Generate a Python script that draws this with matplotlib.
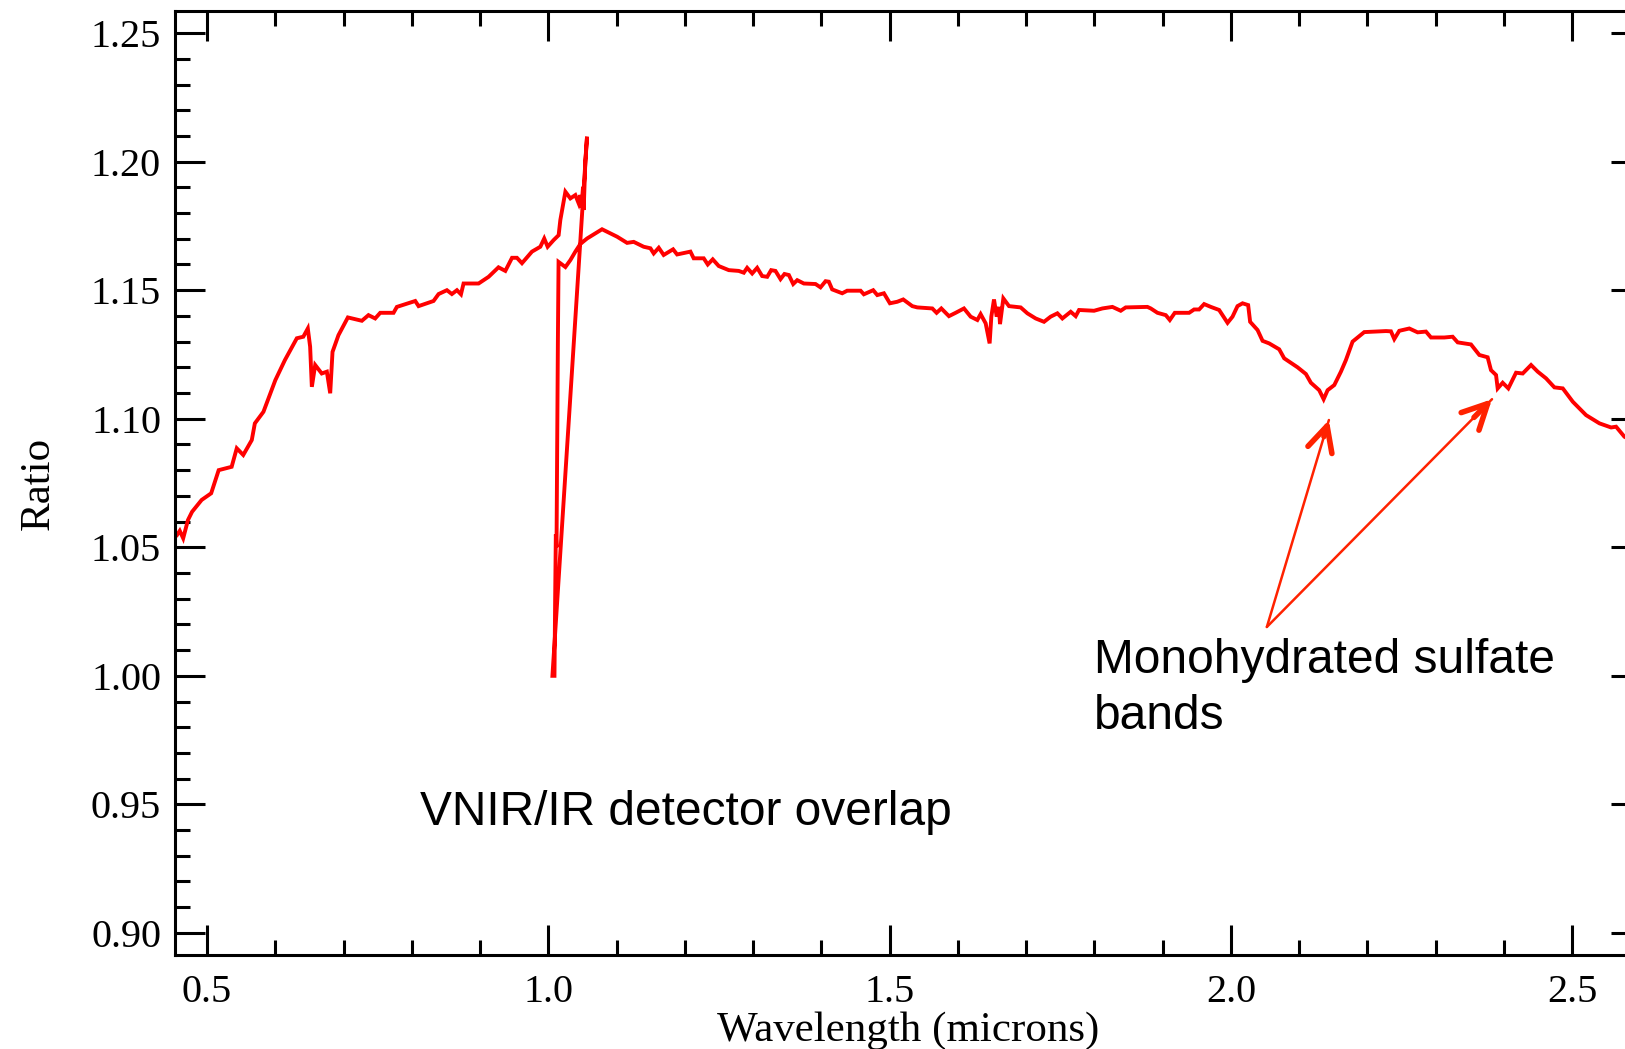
import numpy as np
import matplotlib
matplotlib.use('Agg')
import matplotlib.pyplot as plt
from matplotlib.ticker import MultipleLocator, FormatStrFormatter

# VNIR detector segment (wavelength in microns, ratio)
vnir_x = [0.456, 0.460, 0.465, 0.472, 0.478, 0.492, 0.506, 0.517, 0.536, 0.5435,
          0.553, 0.5655, 0.570, 0.5826, 0.600, 0.614, 0.6315, 0.641, 0.6476, 0.651,
          0.6535, 0.6584, 0.668, 0.6755, 0.6804, 0.6838, 0.6925, 0.7063, 0.7268, 0.7365,
          0.7463, 0.7537, 0.7732, 0.7781, 0.805, 0.8099, 0.8318, 0.8392, 0.8514, 0.8587,
          0.8661, 0.872, 0.8758, 0.8978, 0.9125, 0.927, 0.937, 0.9468, 0.954, 0.9614,
          0.976, 0.9883, 0.994, 0.999, 1.0078, 1.0151, 1.0176, 1.021, 1.025, 1.0323,
          1.0396, 1.0444, 1.047, 1.0484, 1.0509, 1.0518, 1.0543, 1.0567]
vnir_y = [1.0548, 1.0564, 1.0535, 1.0606, 1.0638, 1.0684, 1.0710, 1.0800, 1.0813, 1.0885,
          1.0859, 1.0917, 1.0982, 1.1027, 1.1150, 1.1228, 1.1313, 1.1319, 1.1351, 1.1280,
          1.1124, 1.1209, 1.1176, 1.1183, 1.1099, 1.1260, 1.1325, 1.1394, 1.1381, 1.1403,
          1.1390, 1.1412, 1.1412, 1.1435, 1.1458, 1.1438, 1.1458, 1.1485, 1.1500, 1.1485,
          1.1500, 1.1484, 1.1526, 1.1526, 1.1552, 1.1589, 1.1575, 1.1626, 1.1626, 1.1605,
          1.1650, 1.1669, 1.1701, 1.1669, 1.1695, 1.1714, 1.1773, 1.1824, 1.1883, 1.1857,
          1.1870, 1.1838, 1.1870, 1.1820, 1.1902, 1.1812, 1.2006, 1.2097]

# IR detector segment
ir_x = [1.006, 1.009, 1.010, 1.011, 1.012, 1.013, 1.014, 1.015, 1.025, 1.0323,
        1.0396, 1.047, 1.0567, 1.069, 1.0787, 1.091, 1.1008, 1.1154, 1.1251, 1.1397,
        1.1496, 1.1544, 1.1618, 1.169, 1.1828, 1.1887, 1.2082, 1.213, 1.2277, 1.2336,
        1.2409, 1.2497, 1.2644, 1.279, 1.2864, 1.2913, 1.2987, 1.306, 1.3133, 1.3207,
        1.3265, 1.3328, 1.3402, 1.346, 1.3524, 1.3588, 1.3647, 1.3744, 1.3915, 1.3988,
        1.4062, 1.411, 1.4159, 1.4306, 1.4379, 1.4575, 1.4623, 1.476, 1.482, 1.4917,
        1.5005, 1.5113, 1.520, 1.5333, 1.5406, 1.5626, 1.5689, 1.5758, 1.587, 1.5968,
        1.609, 1.6188, 1.6286, 1.6334, 1.6408, 1.6432, 1.6466, 1.6491, 1.653, 1.657,
        1.6603, 1.6618, 1.6667, 1.675, 1.6921, 1.7019, 1.7141, 1.7263, 1.736, 1.7459,
        1.7532, 1.7654, 1.7727, 1.7776, 1.7996, 1.8118, 1.8265, 1.8387, 1.846, 1.8778,
        1.8827, 1.8925, 1.9047, 1.9106, 1.9179, 1.9389, 1.9462, 1.9535, 1.9609, 1.9707,
        1.9829, 1.9952, 2.0025, 2.0098, 2.0172, 2.0254, 2.0283, 2.0392, 2.0465, 2.0562,
        2.0709, 2.0782, 2.0978, 2.110, 2.1173, 2.1295, 2.136, 2.1418, 2.1516, 2.1613,
        2.1686, 2.1784, 2.1955, 2.2273, 2.2346, 2.2395, 2.2468, 2.2615, 2.2737, 2.2859,
        2.2933, 2.3128, 2.325, 2.3324, 2.3519, 2.3641, 2.3763, 2.3812, 2.3886, 2.391,
        2.3983, 2.4066, 2.4179, 2.4277, 2.4399, 2.4497, 2.4619, 2.4741, 2.4864, 2.5011,
        2.5205, 2.5401, 2.5572, 2.5645, 2.5767, 2.595]
ir_y = [1.000, 1.000, 1.030, 1.055, 1.050, 1.090, 1.130, 1.161, 1.159, 1.1617,
        1.1650, 1.1680, 1.1701, 1.1721, 1.1737, 1.1721, 1.1708, 1.1684, 1.1688, 1.1669,
        1.1663, 1.1643, 1.1665, 1.1637, 1.1659, 1.1639, 1.1650, 1.1624, 1.1624, 1.1600,
        1.1620, 1.1594, 1.1578, 1.1575, 1.1568, 1.1587, 1.1565, 1.1587, 1.1555, 1.1552,
        1.1578, 1.1575, 1.1543, 1.1563, 1.1559, 1.1524, 1.1539, 1.1526, 1.1524, 1.1511,
        1.1535, 1.1533, 1.1503, 1.1488, 1.1498, 1.1498, 1.1484, 1.1500, 1.1481, 1.1488,
        1.1449, 1.1455, 1.1464, 1.1438, 1.1433, 1.1429, 1.1412, 1.1429, 1.1399, 1.1412,
        1.1429, 1.1397, 1.1384, 1.1407, 1.1371, 1.1338, 1.1293, 1.1397, 1.1464, 1.1397,
        1.1435, 1.1368, 1.1468, 1.1438, 1.1433, 1.1410, 1.1390, 1.1377, 1.1397, 1.1410,
        1.1390, 1.1416, 1.1399, 1.1423, 1.1420, 1.1429, 1.1435, 1.1420, 1.1433, 1.1435,
        1.1429, 1.1412, 1.1403, 1.1384, 1.1412, 1.1412, 1.1425, 1.1425, 1.1446, 1.1435,
        1.1423, 1.1373, 1.1397, 1.1438, 1.1449, 1.1442, 1.1377, 1.1345, 1.1303, 1.1293,
        1.1270, 1.1235, 1.1200, 1.1174, 1.1140, 1.1111, 1.1076, 1.1111, 1.1131, 1.1183,
        1.1228, 1.1300, 1.1337, 1.1341, 1.1340, 1.1310, 1.1342, 1.1351, 1.1336, 1.1339,
        1.1316, 1.1316, 1.1319, 1.1297, 1.1289, 1.1248, 1.1239, 1.1189, 1.1170, 1.1118,
        1.1140, 1.1118, 1.1179, 1.1176, 1.1209, 1.1183, 1.1157, 1.1122, 1.1118, 1.1066,
        1.1014, 1.0982, 1.0966, 1.0969, 1.0930, 1.0905]

band_centers = [(2.1437, 1.0995), (2.3827, 1.1076)]

serif = ['Liberation Serif', 'DejaVu Serif']
sans = ['Liberation Sans', 'DejaVu Sans']
red = '#ff0000'
arrow_red = '#ff2200'

fig = plt.figure(figsize=(16.25, 10.49), dpi=100)
ax = fig.add_axes([175 / 1625, 94 / 1049, 1466 / 1625, 944 / 1049])

# one polyline, as the raw data would be plotted (VNIR then IR)
wl = np.concatenate([vnir_x, ir_x])
ratio = np.concatenate([vnir_y, ir_y])
ax.plot(wl, ratio, color=red, lw=2.8, solid_joinstyle='miter')

ax.set_xlim(0.453, 2.601)
ax.set_ylim(0.8914, 1.2586)

ax.xaxis.set_major_locator(MultipleLocator(0.5))
ax.xaxis.set_minor_locator(MultipleLocator(0.1))
ax.yaxis.set_major_locator(MultipleLocator(0.05))
ax.yaxis.set_minor_locator(MultipleLocator(0.01))
ax.xaxis.set_major_formatter(FormatStrFormatter('%.1f'))
ax.yaxis.set_major_formatter(FormatStrFormatter('%.2f'))

ax.tick_params(which='both', direction='in', top=True, right=True, width=2.2, colors='black')
ax.tick_params(which='major', length=21.5)
ax.tick_params(which='minor', length=10.5)
ax.tick_params(axis='x', pad=14)
ax.tick_params(axis='y', pad=10)
for lab in ax.get_xticklabels() + ax.get_yticklabels():
    lab.set_fontfamily(serif)
    lab.set_fontsize(29)
for sp in ax.spines.values():
    sp.set_linewidth(2.2)

ax.set_xlabel('Wavelength (microns)', fontsize=31, family=serif, labelpad=0)
ax.set_ylabel('Ratio', fontsize=31, family=serif, labelpad=24)

ax.text(0.8123, 0.9470, 'VNIR/IR detector overlap', fontsize=34.5, family=sans,
        ha='left', va='center')
ax.text(1.799, 0.9950, 'Monohydrated sulfate\nbands', fontsize=34.5, family=sans,
        ha='left', va='center', linespacing=1.3)

tail = (2.0528, 1.0190)
for tip in band_centers:
    ax.annotate('', xy=tip, xytext=tail,
                arrowprops=dict(arrowstyle='-', color=arrow_red, lw=1.8,
                                shrinkA=0, shrinkB=0))
    near = (tip[0] + (tail[0] - tip[0]) * 0.08, tip[1] + (tail[1] - tip[1]) * 0.08)
    ax.annotate('', xy=tip, xytext=near,
                arrowprops=dict(arrowstyle='->,head_length=0.9,head_width=0.45',
                                color=arrow_red, lw=4, shrinkA=0, shrinkB=0,
                                mutation_scale=20))

fig.savefig('out.png', dpi=100)
